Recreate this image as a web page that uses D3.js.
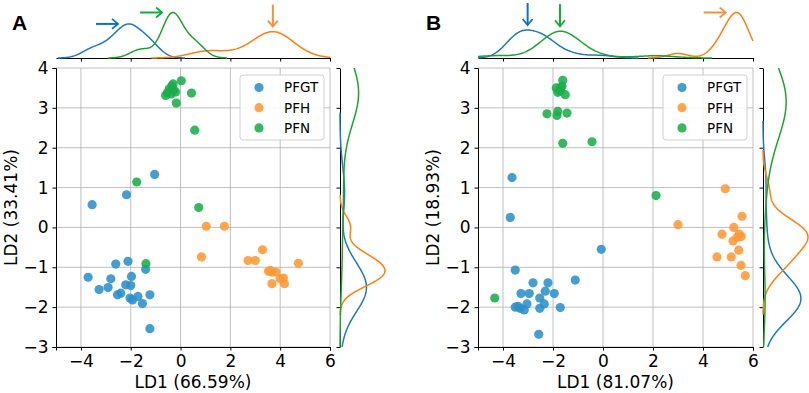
<!DOCTYPE html>
<html>
<head>
<meta charset="utf-8">
<script src="https://cdn.jsdelivr.net/npm/d3@7"></script>
<style>
  body { margin: 0; background: #fff; }
  svg { font-family: "DejaVu Sans", sans-serif; }
</style>
</head>
<body>
<svg width="809" height="393"></svg>
<script>
// LDA scores, [LD1, LD2]
var aPFGT = [[-3.71,-1.25],[-3.27,-1.56],[-2.91,-1.51],[-2.80,-1.29],[-2.60,-0.92],[-2.53,-1.69],[-2.40,-1.65],
  [-2.20,-1.44],[-2.11,-0.85],[-1.97,-1.23],[-2.00,-1.46],[-2.03,-1.77],[-1.93,-1.82],[-1.71,-1.73],[-1.53,-1.91],
  [-1.40,-1.05],[-1.23,-1.69],[-1.23,-2.54],[-1.04,1.33],[-2.17,0.82],[-3.55,0.57]];
var aPFH = [[1.03,0.03],[1.76,0.03],[0.84,-0.74],[2.71,-0.83],[3.00,-0.83],[3.29,-0.56],[3.53,-1.10],[3.67,-1.12],
  [3.83,-1.12],[4.00,-1.29],[4.13,-1.27],[3.67,-1.41],[4.17,-1.41],[4.73,-0.90],[3.60,-1.08]];
var aPFN = [[0.03,3.68],[-0.53,3.38],[-0.45,3.48],[-0.35,3.55],[-0.28,3.45],[-0.38,3.35],[-0.20,3.40],[-0.30,3.60],
  [-0.60,3.31],[-0.17,3.12],[0.44,3.37],[0.57,2.44],[-1.76,1.14],[0.73,0.50],[-1.39,-0.91]];

var bPFGT = [[-3.64,1.25],[-3.71,0.25],[-0.07,-0.55],[-3.51,-1.07],[-1.11,-1.32],[-2.80,-1.39],[-2.20,-1.39],
  [-3.28,-1.66],[-2.95,-1.66],[-2.31,-1.60],[-1.95,-1.66],[-2.53,-1.77],[-3.51,-2.00],[-3.31,-2.03],[-3.15,-2.07],
  [-3.04,-1.92],[-2.53,-2.03],[-2.35,-1.92],[-1.71,-2.01],[-2.57,-2.68],[-3.40,-1.98]];
var bPFH = [[4.89,0.97],[3.00,0.07],[5.56,0.28],[5.23,0.00],[4.76,-0.17],[5.45,-0.17],[5.53,-0.23],[5.36,-0.25],
  [5.20,-0.34],[5.43,-0.57],[4.56,-0.74],[5.13,-0.74],[5.52,-0.95],[5.69,-1.21]];
var bPFN = [[-1.61,3.69],[-1.87,3.50],[-1.64,3.54],[-1.71,3.42],[-1.81,3.39],[-1.51,3.33],[-1.70,3.50],[-2.24,2.85],
  [-1.81,2.91],[-1.84,2.81],[-1.44,2.87],[-1.61,2.11],[-0.44,2.15],[2.12,0.80],[-4.33,-1.77]];

var groups = ["PFGT", "PFH", "PFN"];
var xTicks = [-4, -2, 0, 2, 4, 6];
var yTicks = [-3, -2, -1, 0, 1, 2, 3, 4];
var xLabels = ["LD1 (66.59%)", "LD1 (81.07%)"];
var yLabels = ["LD2 (33.41%)", "LD2 (18.93%)"];
// which marginal peaks get an arrow, and from which side
var arrowsA = [["PFGT", "right"], ["PFN", "right"], ["PFH", "down"]];
var arrowsB = [["PFGT", "down"], ["PFN", "down"], ["PFH", "right"]];

var dotColor = {PFGT: "#2b8fca", PFH: "#ff9837", PFN: "#1aad4a"};
var lineColor = {PFGT: "#1f78c0", PFH: "#ff7f0e", PFN: "#1fa32f"};
var arrowColor = {PFGT: "#0a73c8", PFH: "#f7913f", PFN: "#0fae3a"};

var svg = d3.select("svg");
var fmt = function(d) { return d < 0 ? "\u2212" + Math.abs(d) : "" + d; };

// gaussian kde per group, scott bandwidth, cut = 3
function kde(vals, lo, hi) {
  var n = vals.length, sd = d3.deviation(vals), bw = sd * Math.pow(n, -0.2);
  var a = Math.max(lo, d3.min(vals) - 3 * bw), b = Math.min(hi, d3.max(vals) + 3 * bw);
  var pts = [];
  for (var i = 0; i <= 200; i++) {
    var t = a + (b - a) * i / 200;
    var s = d3.sum(vals, function(v) { var z = (t - v) / bw; return Math.exp(-0.5 * z * z); });
    pts.push([t, s / (n * bw * Math.sqrt(2 * Math.PI))]);
  }
  return pts;
}

function panel(opt) {
  var x = d3.scaleLinear().domain([-5, 6]).range([opt.left, opt.right]);
  var y = d3.scaleLinear().domain([-3, 4]).range([347, 68]);
  var g = svg.append("g");

  // grid
  g.append("g").selectAll("line.gx").data(xTicks).enter().append("line")
    .attr("x1", function(d) { return x(d); }).attr("x2", function(d) { return x(d); })
    .attr("y1", y(-3)).attr("y2", y(4)).attr("stroke", "#b0b0b0").attr("stroke-width", 0.8);
  g.append("g").selectAll("line.gy").data(yTicks).enter().append("line")
    .attr("y1", function(d) { return y(d); }).attr("y2", function(d) { return y(d); })
    .attr("x1", x(-5)).attr("x2", x(6)).attr("stroke", "#b0b0b0").attr("stroke-width", 0.8);

  // axes
  var ax = g.append("g").attr("transform", "translate(0," + y(-3) + ")")
    .call(d3.axisBottom(x).tickValues(xTicks).tickFormat(fmt).tickSize(3.5).tickPadding(4));
  var ay = g.append("g").attr("transform", "translate(" + x(-5) + ",0)")
    .call(d3.axisLeft(y).tickValues(yTicks).tickFormat(fmt).tickSize(3.5).tickPadding(4));
  [ax, ay].forEach(function(a) {
    a.selectAll("text").attr("font-size", 17).attr("fill", "#000").attr("font-family", "DejaVu Sans");
    a.select(".domain").attr("stroke", "#000").attr("stroke-width", 1);
    a.selectAll(".tick line").attr("stroke", "#000");
  });
  ax.selectAll("text").attr("dy", "0.75em");

  g.append("text").attr("x", (x(-5) + x(6)) / 2).attr("y", 388).attr("text-anchor", "middle")
    .attr("font-size", 17).text(opt.xLabel);
  g.append("text").attr("transform", "translate(" + (x(-5) - 45) + "," + y(0.5) + ") rotate(-90)")
    .attr("text-anchor", "middle").attr("dy", "0.35em").attr("font-size", 17).text(opt.yLabel);

  // points
  groups.forEach(function(k) {
    g.append("g").selectAll("circle").data(opt.data[k]).enter().append("circle")
      .attr("cx", function(d) { return x(d[0]); }).attr("cy", function(d) { return y(d[1]); })
      .attr("r", 4.6).attr("fill", dotColor[k]).attr("fill-opacity", 0.88);
  });

  // legend
  var lx = x(6) - 90, ly = 75;
  g.append("rect").attr("x", lx).attr("y", ly).attr("width", 84).attr("height", 65).attr("rx", 3)
    .attr("fill", "#fff").attr("fill-opacity", 0.85).attr("stroke", "#d0d0d0");
  groups.forEach(function(k, i) {
    g.append("circle").attr("cx", lx + 19).attr("cy", ly + 12.5 + i * 20.2).attr("r", 4.6)
      .attr("fill", dotColor[k]).attr("fill-opacity", 0.88);
    g.append("text").attr("x", lx + 44).attr("y", ly + 12.5 + i * 20.2).attr("dy", "0.36em")
      .attr("font-size", 13.5).text(k);
  });

  // top marginal
  var topCurves = groups.map(function(k) { return kde(opt.data[k].map(function(d) { return d[0]; }), -5, 6); });
  var topMax = d3.max(topCurves, function(c) { return d3.max(c, function(p) { return p[1]; }); });
  var hy = d3.scaleLinear().domain([0, topMax]).range([58, 12.5]);
  var mt = g.append("g").attr("transform", "translate(0,58)")
    .call(d3.axisBottom(x).tickValues(xTicks).tickFormat("").tickSize(3.5).tickSizeOuter(0));
  mt.select(".domain").attr("stroke", "#000");
  var topLine = d3.line().x(function(p) { return x(p[0]); }).y(function(p) { return hy(p[1]); });
  topCurves.forEach(function(c, i) {
    g.append("path").attr("d", topLine(c)).attr("fill", "none")
      .attr("stroke", lineColor[groups[i]]).attr("stroke-width", 1.5);
  });

  // right marginal
  var rx0 = x(6) + 10;
  var rightCurves = groups.map(function(k) { return kde(opt.data[k].map(function(d) { return d[1]; }), -3, 4); });
  var rMax = d3.max(rightCurves, function(c) { return d3.max(c, function(p) { return p[1]; }); });
  var hx = d3.scaleLinear().domain([0, rMax]).range([rx0, rx0 + 45]);
  var mr = g.append("g").attr("transform", "translate(" + rx0 + ",0)")
    .call(d3.axisLeft(y).tickValues(yTicks).tickFormat("").tickSize(3.5).tickSizeOuter(0));
  mr.select(".domain").attr("stroke", "#000");
  var rightLine = d3.line().x(function(p) { return hx(p[1]); }).y(function(p) { return y(p[0]); });
  rightCurves.forEach(function(c, i) {
    g.append("path").attr("d", rightLine(c)).attr("fill", "none")
      .attr("stroke", lineColor[groups[i]]).attr("stroke-width", 1.5);
  });

  // arrows pointing at the peaks of the top curves
  opt.arrows.forEach(function(a) {
    var c = topCurves[groups.indexOf(a[0])];
    var pk = c[d3.maxIndex(c, function(p) { return p[1]; })];
    var px = x(pk[0]), py = hy(pk[1]);
    var x1, y1, x2, y2;
    if (a[1] == "right") { x1 = px - 33; x2 = px - 11; y1 = y2 = py; }
    else { x1 = x2 = px; y1 = Math.max(1, py - 27); y2 = py - 5; }
    var col = arrowColor[a[0]];
    g.append("line").attr("x1", x1).attr("y1", y1).attr("x2", x2).attr("y2", y2)
      .attr("stroke", col).attr("stroke-width", 2);
    var hd = a[1] == "right"
      ? [[x2 - 6, y2 - 5], [x2, y2], [x2 - 6, y2 + 5]]
      : [[x2 - 5, y2 - 6], [x2, y2], [x2 + 5, y2 - 6]];
    g.append("path").attr("d", d3.line()(hd)).attr("fill", "none")
      .attr("stroke", col).attr("stroke-width", 1.8);
  });

  svg.append("text").attr("x", opt.tagX).attr("y", 30).attr("font-size", 21)
    .attr("font-weight", "bold").attr("font-family", "Liberation Sans, Arial, sans-serif").text(opt.tag);
}

panel({left: 56, right: 330, data: {PFGT: aPFGT, PFH: aPFH, PFN: aPFN},
  xLabel: xLabels[0], yLabel: yLabels[0], arrows: arrowsA, tag: "A", tagX: 12});
panel({left: 478, right: 753, data: {PFGT: bPFGT, PFH: bPFH, PFN: bPFN},
  xLabel: xLabels[1], yLabel: yLabels[1], arrows: arrowsB, tag: "B", tagX: 426});
</script>
</body>
</html>
